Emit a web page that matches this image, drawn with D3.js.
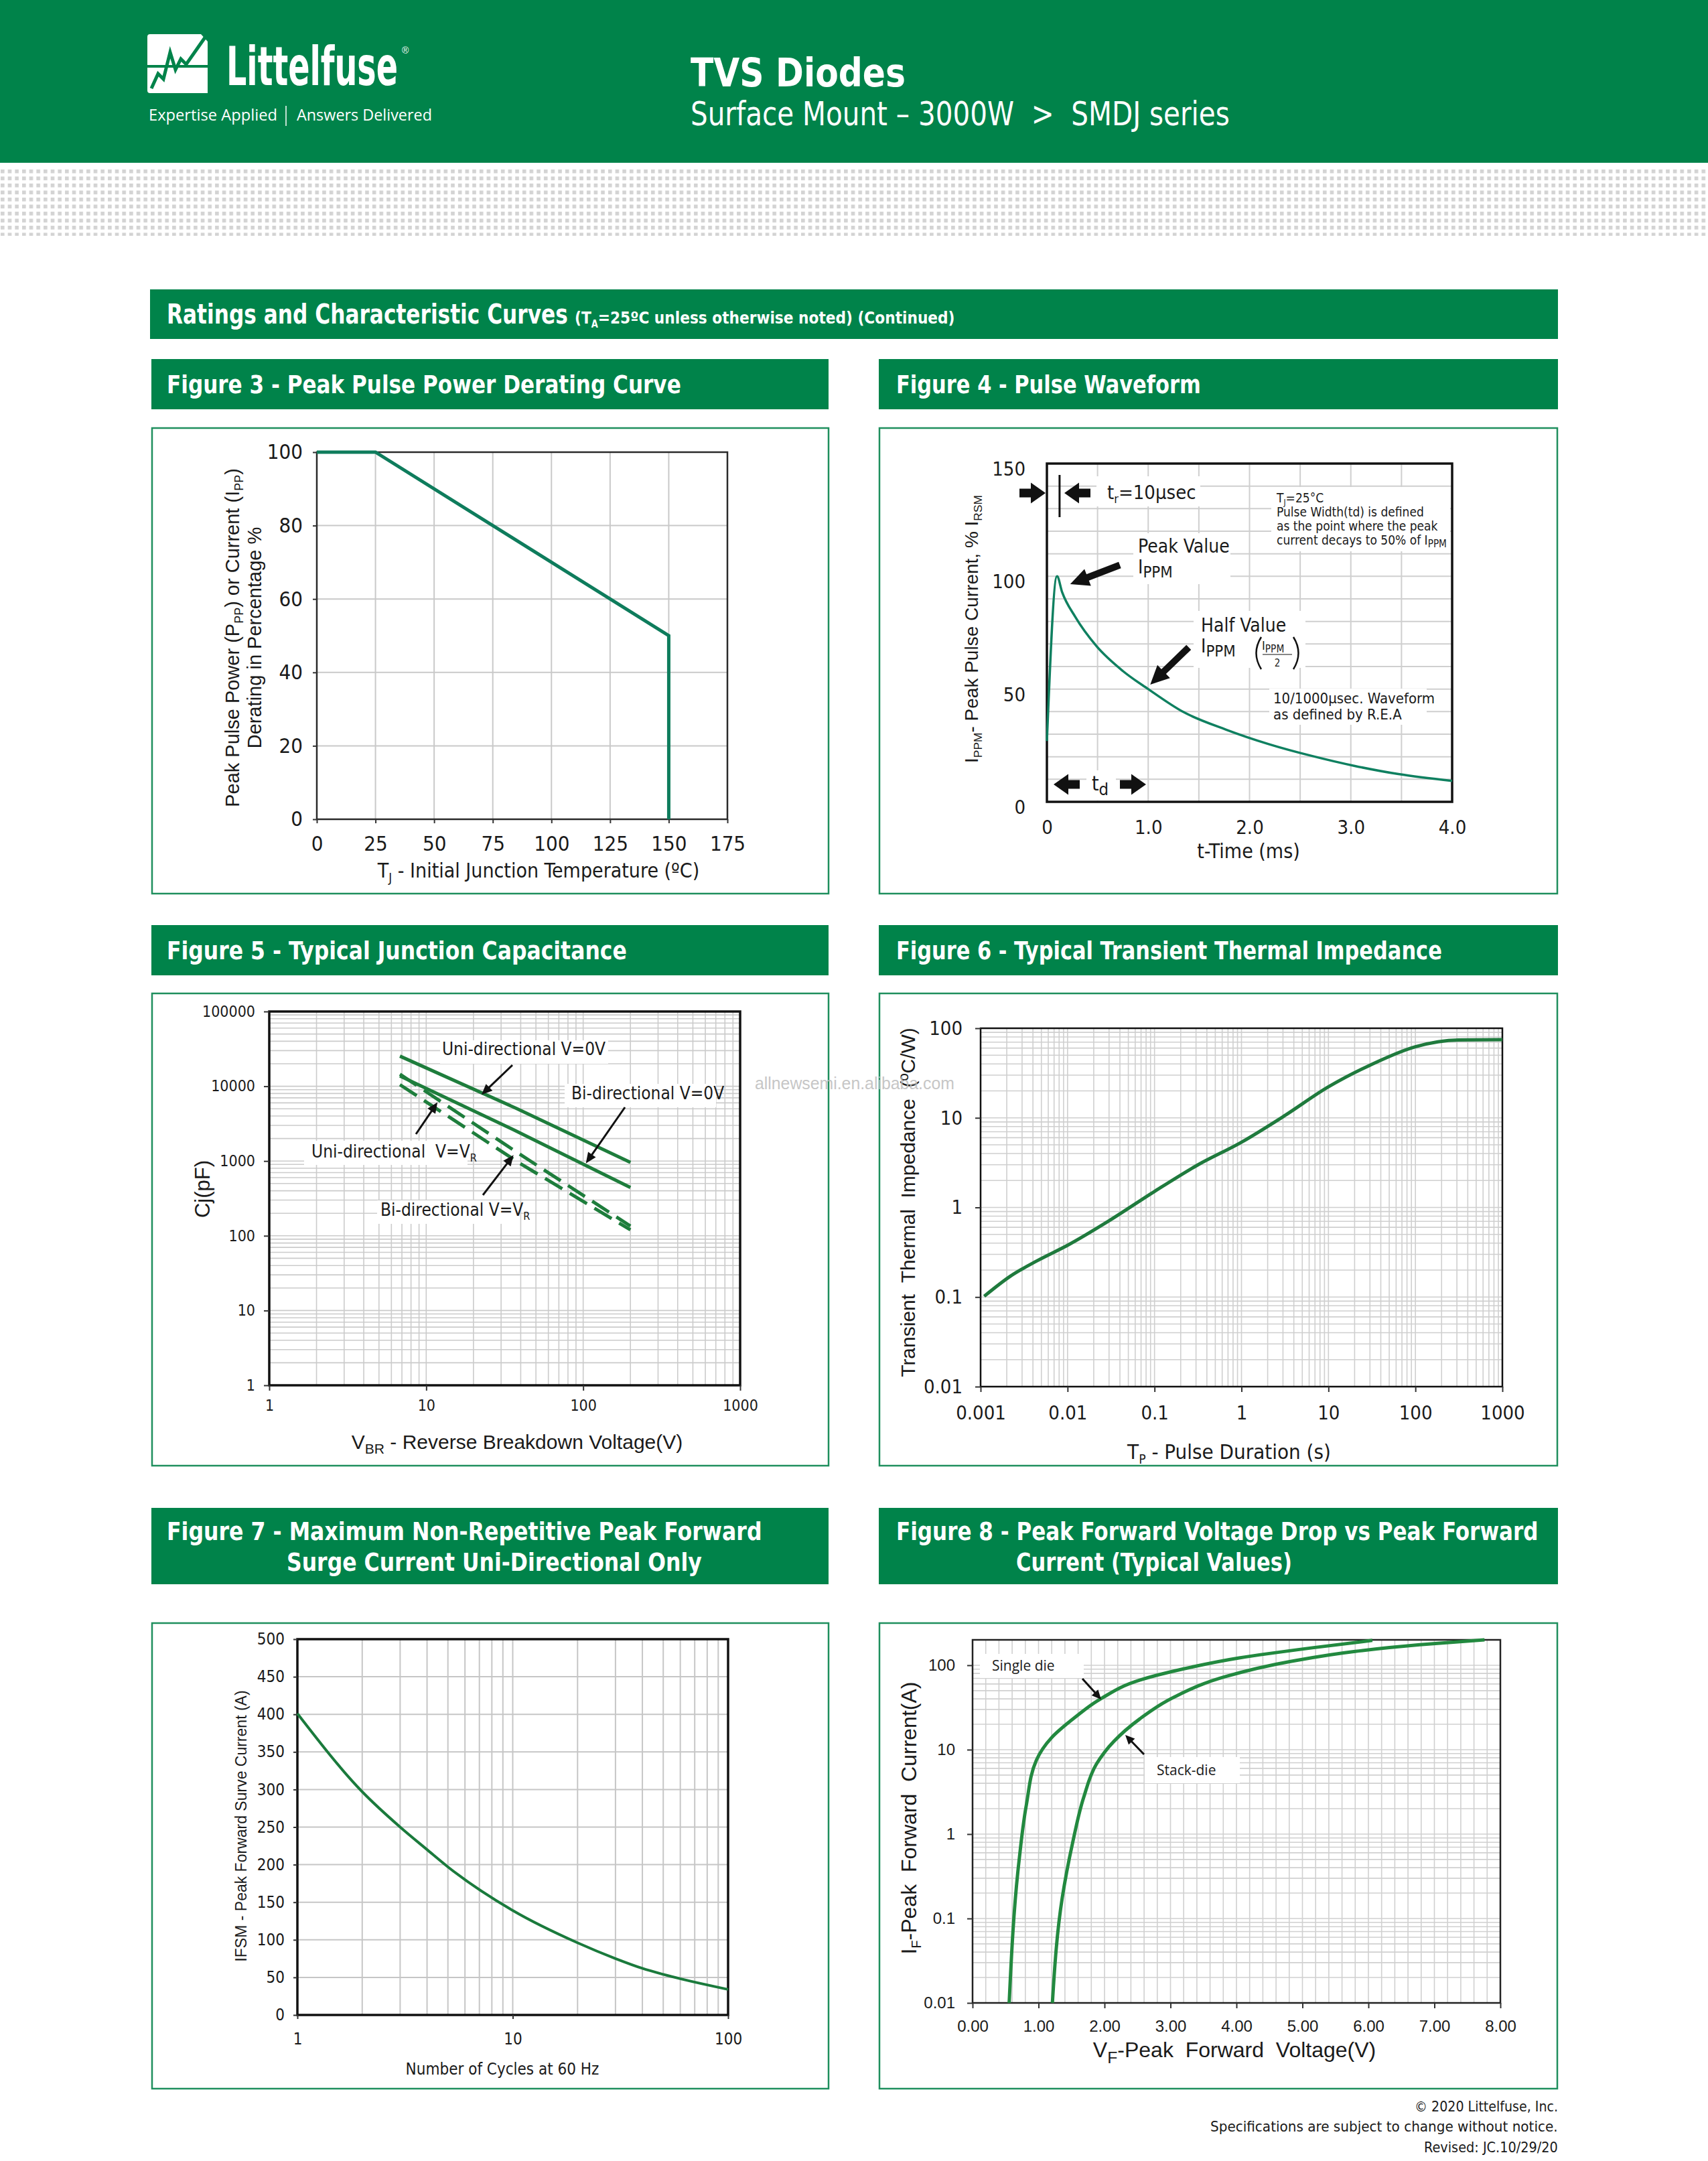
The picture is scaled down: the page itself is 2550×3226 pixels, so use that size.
<!DOCTYPE html>
<html lang="en">
<head>
<meta charset="UTF-8">
<title>SMDJ series - Ratings and Characteristic Curves</title>
<script src="https://d3js.org/d3.v7.min.js"></script>
<style>
  body { margin: 0; background: #fff; }
  svg { display: block; }
</style>
</head>
<body>
<script>
// ---- data ----
// Figure 3 - derating curve
const derateTemp = [0, 25, 150, 150];
const deratePct = [100, 100, 50, 0];
const fig3XTicks = [0, 25, 50, 75, 100, 125, 150, 175];
const fig3YTicks = [0, 20, 40, 60, 80, 100];

// Figure 4 - 10/1000us pulse waveform
const waveTime = [0, 0.1, 0.15, 0.28, 0.49, 0.75, 1.0, 1.34, 1.77, 2.19, 2.62, 3.04, 3.47, 4.0];
const waveCurrent = [27, 100, 93, 82, 69, 58, 50, 40, 32, 25.6, 20.3, 15.9, 12.3, 9.3];
const fig4XTicks = [0, 1, 2, 3, 4];
const fig4XLabels = ["0", "1.0", "2.0", "3.0", "4.0"];
const fig4YTicks = [0, 50, 100, 150];

// Figure 5 - junction capacitance
const capVoltage = [6.8, 38, 200];
const capUniZero = [25300, 5000, 960];
const capBiZero = [13700, 2480, 443];
const capUniVR = [14500, 1300, 135];
const capBiVR = [10500, 980, 120];
const fig5XTicks = [1, 10, 100, 1000];
const fig5YTicks = [1, 10, 100, 1000, 10000, 100000];

// Figure 6 - transient thermal impedance
const pulseDuration = [0.0011, 0.0022, 0.0045, 0.01, 0.03, 0.1, 0.31, 1, 3.1, 10, 30, 100, 315, 1000];
const thermalZ = [0.102, 0.171, 0.255, 0.378, 0.71, 1.51, 2.96, 5.35, 10.5, 22.2, 38.7, 62.2, 74, 74.6];
const fig6XTicks = [0.001, 0.01, 0.1, 1, 10, 100, 1000];
const fig6YTicks = [0.01, 0.1, 1, 10, 100];

// Figure 7 - surge current vs cycles
const surgeCycles = [1, 2, 3, 4, 5, 10, 20, 30, 40, 50, 100];
const surgeCurrent = [401, 297, 250, 220, 197, 139, 96, 75, 62, 54, 34];
const fig7XTicks = [1, 10, 100];
const fig7YTicks = [0, 50, 100, 150, 200, 250, 300, 350, 400, 450, 500];

// Figure 8 - forward voltage vs forward current
const singleV = [0.555, 0.705, 0.816, 0.967, 1.195, 1.555, 1.946, 2.534, 3.19, 4.04, 5.15, 6.06];
const singleI = [0.01, 0.486, 2.23, 7.5, 13.8, 24.2, 40.2, 66.7, 90.3, 122, 161, 197];
const stackV = [1.21, 1.36, 1.52, 1.685, 1.88, 2.14, 2.53, 3.06, 3.84, 4.82, 5.8, 6.78, 7.76];
const stackI = [0.01, 0.177, 0.81, 2.73, 6.8, 12.5, 23, 42.2, 73.8, 111, 146, 175, 200];
const fig8XTicks = [0, 1, 2, 3, 4, 5, 6, 7, 8];
const fig8YTicks = [0.01, 0.1, 1, 10, 100];

// ---- page setup ----
const GREEN = "#00834a";
const SANS = "'Liberation Sans', Arial, Helvetica, sans-serif";
const NARROW = "'Liberation Sans Narrow', 'Arial Narrow', 'DejaVu Sans Condensed', sans-serif";
const OPEN = "'Open Sans', 'Noto Sans', sans-serif";
const GRID = "#c9c9c9";
const NB = "\u00a0";

const svg = d3.select("body").append("svg")
  .attr("width", 2550).attr("height", 3226)
  .style("background", "#fff");

// helper for text with sub-scripts: parts = [[str, 'sub'|undefined], ...]
function rich(sel, parts, size, subScale = 0.62) {
  let shifted = false;
  parts.forEach(p => {
    const t = sel.append("tspan").text(p[0]);
    if (p[1] === "sub" && !shifted) {
      t.attr("font-size", size * subScale).attr("dy", size * 0.22); shifted = true;
    } else if (p[1] !== "sub" && shifted) {
      t.attr("dy", -size * 0.22); shifted = false;
    } else if (p[1] === "sub") {
      t.attr("font-size", size * subScale);
    }
  });
  return sel;
}

function label(g, x, y, str, size, opts = {}) {
  return g.append("text")
    .attr("x", x).attr("y", y)
    .attr("font-family", opts.family || SANS)
    .attr("font-size", size)
    .attr("font-weight", opts.weight || "normal")
    .attr("text-anchor", opts.anchor || "start")
    .attr("fill", opts.fill || "#1a1a1a")
    .text(str);
}

// squeeze a text horizontally to a given width (condensed look without a condensed font)
function fit(sel, width) {
  const w = sel.node().getComputedTextLength();
  const x = +sel.attr("x"), y = +sel.attr("y"), anchor = sel.attr("text-anchor");
  const left = anchor === "end" ? x - width : anchor === "middle" ? x - width / 2 : x;
  sel.attr("x", 0).attr("y", 0).attr("text-anchor", "start")
    .attr("transform", `translate(${left},${y}) scale(${width / w},1)`);
  return sel;
}

function vTitle(g, x, y, parts, size, family) {
  const t = g.append("text")
    .attr("transform", `translate(${x},${y}) rotate(-90)`)
    .attr("text-anchor", "middle")
    .attr("font-family", family || SANS)
    .attr("font-size", size)
    .attr("fill", "#1a1a1a");
  return rich(t, parts, size);
}

// ---- header ----
svg.append("rect").attr("x", 0).attr("y", 0).attr("width", 2550).attr("height", 243).attr("fill", GREEN);

const defs = svg.append("defs");
const pat = defs.append("pattern").attr("id", "dots")
  .attr("patternUnits", "userSpaceOnUse").attr("width", 10.67).attr("height", 10.5);
pat.append("rect").attr("x", 1).attr("y", 1).attr("width", 5.6).attr("height", 5.6).attr("fill", "#d3d3d3");
svg.append("rect").attr("x", 0).attr("y", 252).attr("width", 2550).attr("height", 100).attr("fill", "url(#dots)");

// logo
const logo = svg.append("g");
logo.append("path")
  .attr("d", "M224,51 L310,51 L310,139 L224,139 Q220,139 220,135 L220,55 Q220,51 224,51 Z")
  .attr("fill", "#fff");
logo.append("line").attr("x1", 220).attr("x2", 310).attr("y1", 99).attr("y2", 99)
  .attr("stroke", GREEN).attr("stroke-width", 4);
logo.append("polyline")
  .attr("points", "226,132 236,110 244,118 254,78 262,104 270,88 278,96 306,56")
  .attr("fill", "none").attr("stroke", GREEN).attr("stroke-width", 5).attr("stroke-linejoin", "miter");
logo.append("path").attr("d", "M300,51 L310,51 L310,62 Z").attr("fill", GREEN);
fit(label(svg, 338, 127, "Littelfuse", 80, { family: NARROW, weight: "bold", fill: "#fff" }), 256);
label(svg, 600, 80, "®", 14, { fill: "#fff" });
fit(label(svg, 222, 180, "Expertise Applied", 23, { family: OPEN, fill: "#fff" }), 192);
svg.append("line").attr("x1", 427).attr("x2", 427).attr("y1", 158).attr("y2", 188)
  .attr("stroke", "#fff").attr("stroke-width", 1.5);
fit(label(svg, 443, 180, "Answers Delivered", 23, { family: OPEN, fill: "#fff" }), 202);

fit(label(svg, 1031, 129, "TVS Diodes", 58, { family: NARROW, weight: "bold", fill: "#fff" }), 321);
fit(label(svg, 1031, 187, `Surface Mount – 3000W${NB}${NB}>${NB}${NB}SMDJ series`, 50, { family: NARROW, fill: "#fff" }), 805);

// ---- section & figure title bars ----
svg.append("rect").attr("x", 224).attr("y", 432).attr("width", 2102).attr("height", 74).attr("fill", GREEN);
fit(label(svg, 249, 483, "Ratings and Characteristic Curves", 40, { family: NARROW, weight: "bold", fill: "#fff" }), 599);
const secSmall = svg.append("text").attr("x", 858).attr("y", 483)
  .attr("font-family", NARROW).attr("font-weight", "bold").attr("fill", "#fff").attr("font-size", 25);
secSmall.append("tspan").text("(T");
secSmall.append("tspan").attr("font-size", 15).attr("dy", 6).text("A");
secSmall.append("tspan").attr("dy", -6).text("=25ºC unless otherwise noted) (Continued)");
fit(secSmall, 568);

function titleBar(x, y, w, h, lines) {
  svg.append("rect").attr("x", x).attr("y", y).attr("width", w).attr("height", h).attr("fill", GREEN);
  lines.forEach(l => {
    fit(label(svg, l.x, l.y, l.text, 38, { family: NARROW, weight: "bold", fill: "#fff" }), l.len);
  });
}
titleBar(226, 536, 1011, 75, [{ x: 249, y: 587, len: 768, text: "Figure 3 - Peak Pulse Power Derating Curve" }]);
titleBar(1312, 536, 1014, 75, [{ x: 1338, y: 587, len: 455, text: "Figure 4 - Pulse Waveform" }]);
titleBar(226, 1381, 1011, 75, [{ x: 249, y: 1432, len: 687, text: "Figure 5 - Typical Junction Capacitance" }]);
titleBar(1312, 1381, 1014, 75, [{ x: 1338, y: 1432, len: 815, text: "Figure 6 - Typical Transient Thermal Impedance" }]);
titleBar(226, 2251, 1011, 114, [
  { x: 249, y: 2299, len: 889, text: "Figure 7 - Maximum Non-Repetitive Peak Forward" },
  { x: 428, y: 2345, len: 620, text: "Surge Current Uni-Directional Only" }]);
titleBar(1312, 2251, 1014, 114, [
  { x: 1338, y: 2299, len: 959, text: "Figure 8 - Peak Forward Voltage Drop vs Peak Forward" },
  { x: 1517, y: 2345, len: 412, text: "Current (Typical Values)" }]);

// panel frames
function panel(x, y, w, h) {
  svg.append("rect").attr("x", x).attr("y", y).attr("width", w).attr("height", h)
    .attr("fill", "#fff").attr("stroke", "#1f8f5e").attr("stroke-width", 2.5);
}
panel(227, 639, 1010, 695);
panel(1313, 639, 1012, 695);
panel(227, 1483, 1010, 705);
panel(1313, 1483, 1012, 705);
panel(227, 2423, 1010, 695);
panel(1313, 2423, 1012, 695);

// generic chart pieces
function gridLines(g, x, y, xv, yv, color, w) {
  const [x0, x1] = x.range(), [y0, y1] = y.range();
  g.append("g").selectAll("line").data(xv).join("line")
    .attr("x1", d => x(d)).attr("x2", d => x(d)).attr("y1", y0).attr("y2", y1)
    .attr("stroke", color).attr("stroke-width", w);
  g.append("g").selectAll("line").data(yv).join("line")
    .attr("y1", d => y(d)).attr("y2", d => y(d)).attr("x1", x0).attr("x2", x1)
    .attr("stroke", color).attr("stroke-width", w);
}
function frame(g, x, y, color, w) {
  const [x0, x1] = x.range(), [y0, y1] = y.range();
  g.append("rect").attr("x", x0).attr("y", y1).attr("width", x1 - x0).attr("height", y0 - y1)
    .attr("fill", "none").attr("stroke", color).attr("stroke-width", w);
}
function styleAxis(a, family, size) {
  a.select(".domain").remove();
  a.selectAll(".tick line").attr("stroke", "#333").attr("stroke-width", 2);
  a.selectAll("text").attr("font-family", family).attr("font-size", size).attr("fill", "#1a1a1a");
}
function logGrid(lo, hi) {
  const v = [];
  for (let e = Math.round(Math.log10(lo)); e < Math.round(Math.log10(hi)); e++)
    for (let m = 1; m <= 9; m++) v.push(m * Math.pow(10, e));
  v.push(hi);
  return v;
}
function blockArrow(g, x1, y1, x2, y2, shaft, headW, headL) {
  const dx = x2 - x1, dy = y2 - y1, len = Math.hypot(dx, dy);
  const ux = dx / len, uy = dy / len, px = -uy, py = ux;
  const nx = x2 - ux * headL, ny = y2 - uy * headL;
  const pts = [
    [x1 + px * shaft / 2, y1 + py * shaft / 2], [nx + px * shaft / 2, ny + py * shaft / 2],
    [nx + px * headW / 2, ny + py * headW / 2], [x2, y2],
    [nx - px * headW / 2, ny - py * headW / 2], [nx - px * shaft / 2, ny - py * shaft / 2],
    [x1 - px * shaft / 2, y1 - py * shaft / 2]];
  g.append("polygon").attr("points", pts.map(p => p.join(",")).join(" ")).attr("fill", "#111");
}
function whiteBox(g, x, y, w, h) {
  g.append("rect").attr("x", x).attr("y", y).attr("width", w).attr("height", h).attr("fill", "#fff");
}

// ---- Figure 3 ----
{
  const g = svg.append("g");
  const x = d3.scaleLinear().domain([0, 175]).range([473, 1086]);
  const y = d3.scaleLinear().domain([0, 100]).range([1223, 675]);
  gridLines(g, x, y, fig3XTicks, fig3YTicks, GRID, 2);
  frame(g, x, y, "#2a2a2a", 2.5);
  const ax = g.append("g").attr("transform", "translate(0,1223)")
    .call(d3.axisBottom(x).tickValues(fig3XTicks).tickSize(6).tickPadding(19));
  styleAxis(ax, NARROW, 31);
  const ay = g.append("g").attr("transform", "translate(473,0)")
    .call(d3.axisLeft(y).tickValues(fig3YTicks).tickSize(6).tickPadding(15));
  styleAxis(ay, NARROW, 31);
  const pts = derateTemp.map((t, i) => [t, deratePct[i]]);
  g.append("path").datum(pts)
    .attr("d", d3.line().x(d => x(d[0])).y(d => y(d[1])))
    .attr("fill", "none").attr("stroke", "#0e7c5c").attr("stroke-width", 5);
  const xt = g.append("text").attr("x", 804).attr("y", 1310).attr("text-anchor", "middle")
    .attr("font-family", NARROW).attr("font-size", 30).attr("fill", "#1a1a1a");
  rich(xt, [["T"], ["J", "sub"], [" - Initial Junction Temperature (ºC)"]], 30);
  vTitle(g, 357, 952, [["Peak Pulse Power (P"], ["PP", "sub"], [") or Current (I"], ["PP", "sub"], [")"]], 29);
  vTitle(g, 390, 952, [["Derating in Percentage %"]], 29);
}

// ---- Figure 4 ----
{
  const g = svg.append("g");
  const x = d3.scaleLinear().domain([0, 4]).range([1563, 2168]);
  const y = d3.scaleLinear().domain([0, 150]).range([1197, 692]);
  gridLines(g, x, y, d3.range(0.5, 4, 0.5), d3.range(10, 150, 10), "#cfcfcf", 2);
  // label backgrounds that break the grid
  whiteBox(g, 1637, 711, 155, 45);
  whiteBox(g, 1898, 727, 267, 96);
  whiteBox(g, 1692, 796, 145, 76);
  whiteBox(g, 1782, 912, 167, 85);
  whiteBox(g, 1895, 1028, 235, 54);
  whiteBox(g, 1622, 1150, 44, 45);
  frame(g, x, y, "#111", 3.5);
  const ax = g.append("g").attr("transform", "translate(0,1197)")
    .call(d3.axisBottom(x).tickValues(fig4XTicks).tickFormat((d, i) => fig4XLabels[i]).tickSize(0).tickPadding(27));
  styleAxis(ax, NARROW, 29);
  const ay = g.append("g").attr("transform", "translate(1563,0)")
    .call(d3.axisLeft(y).tickValues(fig4YTicks).tickSize(0).tickPadding(32));
  styleAxis(ay, NARROW, 29);
  ay.selectAll("text").attr("dy", "0.6em");
  const pts = waveTime.map((t, i) => [t, waveCurrent[i]]);
  g.append("path").datum(pts)
    .attr("d", d3.line().x(d => x(d[0])).y(d => y(d[1])).curve(d3.curveMonotoneX))
    .attr("fill", "none").attr("stroke", "#0f8060").attr("stroke-width", 3.5);

  // rise-time marker
  blockArrow(g, 1522, 736, 1561, 736, 13, 31, 22);
  blockArrow(g, 1628, 736, 1589, 736, 13, 31, 22);
  g.append("line").attr("x1", x(0.125)).attr("x2", x(0.125)).attr("y1", 709).attr("y2", 772)
    .attr("stroke", "#111").attr("stroke-width", 3);
  const tr = label(g, 1653, 745, "", 29, { family: NARROW });
  rich(tr, [["t"], ["r", "sub"], ["=10µsec"]], 29);

  label(g, 1906, 750, "", 19, { family: NARROW }).call(s => rich(s, [["T"], ["J", "sub"], ["=25°C"]], 19));
  label(g, 1906, 771, "Pulse Width(td) is defined", 19, { family: NARROW });
  label(g, 1906, 792, "as the point where the peak", 19, { family: NARROW });
  label(g, 1906, 813, "", 19, { family: NARROW }).call(s => rich(s, [["current decays to 50% of I"], ["PPM", "sub"]], 19, 0.8));

  label(g, 1699, 825, "Peak Value", 28, { family: NARROW });
  label(g, 1699, 856, "", 28, { family: NARROW }).call(s => rich(s, [["I"], ["PPM", "sub"]], 28, 0.85));
  blockArrow(g, x(0.72), y(105), x(0.23), y(96.5), 10, 27, 28);

  label(g, 1793, 943, "Half Value", 28, { family: NARROW });
  label(g, 1793, 974, "", 28, { family: NARROW }).call(s => rich(s, [["I"], ["PPM", "sub"]], 28, 0.85));
  g.append("path").attr("d", "M1883,951 Q1868,975 1883,999").attr("fill", "none")
    .attr("stroke", "#111").attr("stroke-width", 2.5);
  g.append("path").attr("d", "M1931,951 Q1946,975 1931,999").attr("fill", "none")
    .attr("stroke", "#111").attr("stroke-width", 2.5);
  label(g, 1884, 970, "", 18, { family: NARROW }).call(s => rich(s, [["I"], ["PPM", "sub"]], 18, 0.85));
  g.append("line").attr("x1", 1885).attr("x2", 1929).attr("y1", 977).attr("y2", 977).attr("stroke", "#111").attr("stroke-width", 1.2);
  label(g, 1907, 995, "2", 15, { family: NARROW, anchor: "middle" });
  blockArrow(g, x(1.4), y(68.5), x(1.02), y(52), 10, 27, 28);

  label(g, 1901, 1050, "10/1000µsec. Waveform", 22, { family: NARROW });
  label(g, 1901, 1074, "as defined by R.E.A", 22, { family: NARROW });

  // decay-time marker
  blockArrow(g, 1612, 1171, 1573, 1171, 13, 31, 22);
  blockArrow(g, 1672, 1171, 1711, 1171, 13, 31, 22);
  label(g, 1630, 1180, "", 30, { family: NARROW }).call(s => rich(s, [["t"], ["d", "sub"]], 30, 0.85));

  label(g, 1864, 1281, "t-Time (ms)", 30, { family: NARROW, anchor: "middle" });
  vTitle(g, 1460, 939, [["I"], ["PPM", "sub"], ["- Peak Pulse Current, % I"], ["RSM", "sub"]], 28);
}

// ---- Figure 5 ----
{
  const g = svg.append("g");
  const x = d3.scaleLog().domain([1, 1000]).range([402, 1105]);
  const y = d3.scaleLog().domain([1, 100000]).range([2068, 1510]);
  gridLines(g, x, y, logGrid(1, 1000), logGrid(1, 100000), "#cbcbcb", 1.6);
  // label backgrounds
  whiteBox(g, 657, 1553, 251, 35);
  whiteBox(g, 843, 1618, 226, 35);
  whiteBox(g, 454, 1703, 244, 36);
  whiteBox(g, 563, 1792, 209, 35);
  frame(g, x, y, "#111", 3.5);
  const ax = g.append("g").attr("transform", "translate(0,2068)")
    .call(d3.axisBottom(x).tickValues(fig5XTicks).tickFormat(d3.format("d")).tickSize(8).tickPadding(14));
  styleAxis(ax, NARROW, 23);
  const ay = g.append("g").attr("transform", "translate(402,0)")
    .call(d3.axisLeft(y).tickValues(fig5YTicks).tickFormat(d3.format("d")).tickSize(8).tickPadding(13));
  styleAxis(ay, NARROW, 23);

  const line = d3.line().x(d => x(d[0])).y(d => y(d[1]));
  const series = [
    { v: capUniZero, dash: null },
    { v: capBiZero, dash: null },
    { v: capUniVR, dash: "30,13" },
    { v: capBiVR, dash: "30,13" }];
  series.forEach(s => {
    g.append("path").datum(capVoltage.map((v, i) => [v, s.v[i]]))
      .attr("d", line).attr("fill", "none").attr("stroke", "#1e7d3c").attr("stroke-width", 5)
      .attr("stroke-dasharray", s.dash);
  });

  label(g, 782, 1575, "Uni-directional V=0V", 26, { family: NARROW, anchor: "middle" });
  label(g, 853, 1641, "Bi-directional V=0V", 26, { family: NARROW });
  label(g, 465, 1728, "", 26, { family: NARROW }).call(s => rich(s, [[`Uni-directional${NB}${NB}V=V`], ["R", "sub"]], 26));
  label(g, 568, 1815, "", 26, { family: NARROW }).call(s => rich(s, [["Bi-directional V=V"], ["R", "sub"]], 26));
  blockArrow(g, 765, 1590, x(22.5), y(7700), 3, 14, 16);
  blockArrow(g, 933, 1653, x(104), y(930), 3, 14, 16);
  blockArrow(g, 621, 1693, x(11.8), y(6100), 3, 14, 16);
  blockArrow(g, 721, 1784, x(36), y(1200), 3, 14, 16);

  const xt = g.append("text").attr("x", 772).attr("y", 2163).attr("text-anchor", "middle")
    .attr("font-family", SANS).attr("font-size", 30).attr("fill", "#1a1a1a");
  rich(xt, [["V"], ["BR", "sub"], [" - Reverse Breakdown  Voltage(V)"]], 34);
  vTitle(g, 313, 1775, [["Cj(pF)"]], 31);
}

// ---- Figure 6 ----
{
  const g = svg.append("g");
  const x = d3.scaleLog().domain([0.001, 1000]).range([1464, 2243]);
  const y = d3.scaleLog().domain([0.01, 100]).range([2070, 1535]);
  gridLines(g, x, y, logGrid(0.001, 1000), logGrid(0.01, 100), "#cfcfcf", 1.6);
  frame(g, x, y, "#111", 2.5);
  const ax = g.append("g").attr("transform", "translate(0,2070)")
    .call(d3.axisBottom(x).tickValues(fig6XTicks).tickFormat(d => String(d)).tickSize(8).tickPadding(20));
  styleAxis(ax, NARROW, 29);
  const ay = g.append("g").attr("transform", "translate(1464,0)")
    .call(d3.axisLeft(y).tickValues(fig6YTicks).tickFormat(d => String(d)).tickSize(8).tickPadding(19));
  styleAxis(ay, NARROW, 29);
  g.append("path").datum(pulseDuration.map((t, i) => [t, thermalZ[i]]))
    .attr("d", d3.line().x(d => x(d[0])).y(d => y(d[1])).curve(d3.curveMonotoneX))
    .attr("fill", "none").attr("stroke", "#1f7a3d").attr("stroke-width", 5);
  const xt = g.append("text").attr("x", 1835).attr("y", 2178).attr("text-anchor", "middle")
    .attr("font-family", NARROW).attr("font-size", 31).attr("fill", "#1a1a1a");
  rich(xt, [["T"], ["P", "sub"], [" - Pulse Duration (s)"]], 31);
  vTitle(g, 1366, 1795, [[`Transient${NB}${NB}Thermal${NB}${NB}Impedance${NB}${NB}(ºC/W)`]], 30);
}

// ---- Figure 7 ----
{
  const g = svg.append("g");
  const x = d3.scaleLog().domain([1, 100]).range([444, 1087]);
  const y = d3.scaleLinear().domain([0, 500]).range([3008, 2447]);
  gridLines(g, x, y, logGrid(1, 100), fig7YTicks, "#c6c6c6", 2);
  frame(g, x, y, "#111", 3.5);
  const ax = g.append("g").attr("transform", "translate(0,3008)")
    .call(d3.axisBottom(x).tickValues(fig7XTicks).tickFormat(d3.format("d")).tickSize(6).tickPadding(21));
  styleAxis(ax, NARROW, 24);
  const ay = g.append("g").attr("transform", "translate(444,0)")
    .call(d3.axisLeft(y).tickValues(fig7YTicks).tickSize(6).tickPadding(13));
  styleAxis(ay, NARROW, 24);
  g.append("path").datum(surgeCycles.map((c, i) => [c, surgeCurrent[i]]))
    .attr("d", d3.line().x(d => x(d[0])).y(d => y(d[1])).curve(d3.curveMonotoneX))
    .attr("fill", "none").attr("stroke", "#1a7a3c").attr("stroke-width", 4);
  label(g, 750, 3097, "Number of Cycles at 60 Hz", 24, { family: NARROW, anchor: "middle" });
  vTitle(g, 368, 2726, [["IFSM - Peak Forward Surve Current (A)"]], 23);
}

// ---- Figure 8 ----
{
  const g = svg.append("g");
  const x = d3.scaleLinear().domain([0, 8]).range([1452, 2240]);
  const y = d3.scaleLog().domain([0.01, 200]).range([2990, 2448]);
  gridLines(g, x, y, d3.range(0.2, 8, 0.2), logGrid(0.01, 100).concat([200]), "#d0d0d0", 1.6);
  whiteBox(g, 1463, 2469, 155, 36);
  whiteBox(g, 1709, 2623, 142, 39);
  frame(g, x, y, "#222", 2.5);
  const ax = g.append("g").attr("transform", "translate(0,2990)")
    .call(d3.axisBottom(x).tickValues(fig8XTicks).tickFormat(d => d.toFixed(2)).tickSize(8).tickPadding(18));
  styleAxis(ax, SANS, 24);
  const ay = g.append("g").attr("transform", "translate(1452,0)")
    .call(d3.axisLeft(y).tickValues(fig8YTicks).tickFormat(d => String(d)).tickSize(8).tickPadding(18));
  styleAxis(ay, SANS, 24);
  const line = d3.line().x(d => x(d[0])).y(d => y(d[1])).curve(d3.curveMonotoneY);
  g.append("path").datum(singleV.map((v, i) => [v, singleI[i]]))
    .attr("d", line).attr("fill", "none").attr("stroke", "#22893f").attr("stroke-width", 5);
  g.append("path").datum(stackV.map((v, i) => [v, stackI[i]]))
    .attr("d", line).attr("fill", "none").attr("stroke", "#22893f").attr("stroke-width", 5);
  label(g, 1481, 2494, "Single die", 21, { family: OPEN });
  label(g, 1727, 2650, "Stack-die", 21, { family: OPEN });
  blockArrow(g, 1616, 2506, 1644, 2537, 3, 13, 14);
  blockArrow(g, 1708, 2619, 1680, 2590, 3, 13, 14);
  const xt = g.append("text").attr("x", 1843).attr("y", 3071).attr("text-anchor", "middle")
    .attr("font-family", SANS).attr("font-size", 32).attr("fill", "#1a1a1a");
  rich(xt, [["V"], ["F", "sub"], [`-Peak${NB}${NB}Forward${NB}${NB}Voltage(V)`]], 40);
  vTitle(g, 1368, 2714, [["I"], ["F", "sub"], [`-Peak${NB}${NB}Forward${NB}${NB}Current(A)`]], 32);
}

// watermark over the page
fit(label(svg, 1127, 1626, "allnewsemi.en.alibaba.com", 26, { fill: "#bdbdbd" }), 298).attr("opacity", 0.85);

// ---- footer ----
fit(label(svg, 2326, 3152, "© 2020 Littelfuse, Inc.", 22, { family: NARROW, anchor: "end" }), 214);
fit(label(svg, 2326, 3182, "Specifications are subject to change without notice.", 22, { family: NARROW, anchor: "end" }), 519);
fit(label(svg, 2326, 3213, "Revised: JC.10/29/20", 22, { family: NARROW, anchor: "end" }), 200);
</script>
</body>
</html>
